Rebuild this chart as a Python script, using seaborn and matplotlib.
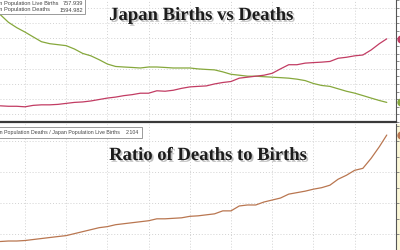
import matplotlib
matplotlib.use("Agg")
import matplotlib.pyplot as plt
import matplotlib.transforms as mtransforms
from matplotlib import patheffects as pe
from matplotlib.patches import Rectangle
import numpy as np
import pandas as pd
import seaborn as sns

# ---------------- data (thousands of people; ratio) ----------------
years = [1977, 1978, 1979, 1980, 1981, 1982, 1983, 1984, 1985, 1986, 1987, 1988,
         1989, 1990, 1991, 1992, 1993, 1994, 1995, 1996, 1997, 1998, 1999, 2000,
         2001, 2002, 2003, 2004, 2005, 2006, 2007, 2008, 2009, 2010, 2011, 2012,
         2013, 2014, 2015, 2016, 2017, 2018, 2019, 2020, 2021, 2022, 2023, 2023.9]
births = [1914, 1812, 1742, 1684, 1620, 1557, 1531, 1518, 1505, 1461, 1403, 1371,
          1320, 1263, 1231, 1224, 1218, 1211, 1224, 1224, 1218, 1211, 1211, 1211,
          1199, 1192, 1186, 1160, 1128, 1116, 1103, 1103, 1096, 1090, 1084, 1077,
          1064, 1045, 1007, 981, 969, 937, 905, 880, 848, 815, 783, 758]
deaths = [713, 707, 707, 700, 719, 726, 726, 732, 745, 758, 764, 777,
          796, 815, 828, 847, 860, 879, 879, 911, 905, 918, 943, 962,
          969, 975, 1001, 1020, 1033, 1077, 1090, 1103, 1116, 1141, 1199, 1254,
          1254, 1275, 1282, 1288, 1297, 1339, 1352, 1371, 1382, 1448, 1531, 1595]
ratio = [0.387, 0.395, 0.395, 0.403, 0.419, 0.435, 0.451, 0.467, 0.482, 0.514, 0.546, 0.578,
         0.610, 0.627, 0.658, 0.674, 0.690, 0.706, 0.722, 0.753, 0.753, 0.761, 0.769, 0.793,
         0.801, 0.817, 0.833, 0.881, 0.881, 0.960, 0.976, 0.976, 1.024, 1.056, 1.088, 1.151,
         1.175, 1.199, 1.231, 1.255, 1.295, 1.392, 1.455, 1.535, 1.567, 1.728, 1.916, 2.104]

births_label = "Japan Population Live Births"
deaths_label = "Japan Population Deaths"
ratio_label = "Japan Population Deaths / Japan Population Live Births"
births_last = "757.939"
deaths_last = "1594.982"
ratio_last = "2.104"
title_top = "Japan Births vs Deaths"
title_bottom = "Ratio of Deaths to Births"

df = pd.DataFrame({"year": years, "births": births, "deaths": deaths, "ratio": ratio})

# ---------------- style ----------------
sns.set_style("white")
plt.rcParams['font.family'] = ['Liberation Sans', 'DejaVu Sans']

C_BIRTH = "#86a83c"
C_DEATH = "#c23c63"
C_RATIO = "#b97650"
GRID = "#d2d2d2"

W, H = 400, 250
fig = plt.figure(figsize=(4, 2.5), dpi=100)
fig.patch.set_facecolor("white")


def rect(x0, y0, x1, y1):
    return [x0 / W, 1 - y1 / H, (x1 - x0) / W, (y1 - y0) / H]


def fx(px):
    return px / W


def fy(py):
    return 1 - py / H


ax1 = fig.add_axes(rect(0, 0, 396, 122))
ax2 = fig.add_axes(rect(0, 124, 396, 250))

sns.lineplot(data=df, x="year", y="births", ax=ax1, color=C_BIRTH, lw=0.9)
sns.lineplot(data=df, x="year", y="deaths", ax=ax1, color=C_DEATH, lw=0.9)
sns.lineplot(data=df, x="year", y="ratio", ax=ax2, color=C_RATIO, lw=0.9)

xlim = (1976.97, 2025.02)
for ax in (ax1, ax2):
    ax.set_xlim(*xlim)
    ax.set_xlabel("")
    ax.set_ylabel("")
    ax.set_xticks(np.arange(1980, 2021, 5))
    ax.grid(True, which="major", color=GRID, lw=0.7, linestyle=(0, (1, 2)))
    ax.tick_params(axis="x", which="both", bottom=False, labelbottom=False)
    ax.yaxis.tick_right()
    ax.tick_params(axis="y", which="both", direction="out", length=2.2, width=0.6,
                   color="#777777", labelright=False, labelleft=False, left=False)
    ax.spines["left"].set_visible(False)
    ax.spines["top"].set_visible(False)
    ax.spines["right"].set_color("#555555")
    ax.spines["right"].set_linewidth(0.8)

ax1.set_ylim(547, 2106)
ax1.set_yticks(np.arange(600, 2001, 200))
ax1.set_yticks(np.arange(500, 2101, 100), minor=True)
ax1.spines["bottom"].set_color("#3a3a3a")
ax1.spines["bottom"].set_linewidth(1.6)

ax2.set_ylim(0.26, 2.282)
ax2.set_yticks([0.5, 1.0, 1.5, 2.0])
ax2.set_yticks(np.arange(0.25, 2.3, 0.25), minor=True)
ax2.spines["bottom"].set_visible(False)

# last-value markers at the right axis
for ax, val, col in ((ax1, deaths[-1], C_DEATH), (ax1, births[-1], C_BIRTH), (ax2, ratio[-1], C_RATIO)):
    tr = mtransforms.blended_transform_factory(ax.transAxes, ax.transData)
    ax.plot([401 / 396], [val], "o", ms=5, color=col, transform=tr, clip_on=False)

# pale strip at the right edge of the lower panel
fig.add_artist(Rectangle((fx(397), fy(250)), fx(3), 126 / H, transform=fig.transFigure,
                         facecolor="#fbf7d8", edgecolor="none", zorder=0))

# ---------------- legends (cropped at left edge) ----------------
renderer = fig.canvas.get_renderer()


def text_width(s, **kw):
    t = fig.text(0, 0, s, **kw)
    w = t.get_window_extent(renderer).width
    t.remove()
    return w


LEG_FONT = dict(family=['Liberation Sans', 'DejaVu Sans'], color="#444444")


def fit_size(s, target, font):
    return 4 * target / text_width(s, fontsize=4, **font)


def legend_box(x0, y0, x1, y1):
    fig.add_artist(Rectangle((fx(x0), fy(y1)), fx(x1 - x0), (y1 - y0) / H,
                             transform=fig.transFigure, facecolor="white",
                             edgecolor="#8a8a8a", lw=0.6, zorder=5))


def legend_row(label, value, y, xval, fs):
    off = text_width("Japan ", fontsize=fs, **LEG_FONT)
    fig.text(fx(4 - off), fy(y), label, fontsize=fs, ha="left", va="center",
             zorder=6, **LEG_FONT)
    fig.text(fx(xval), fy(y), value, fontsize=fs, ha="right", va="center",
             zorder=6, **LEG_FONT)


fs_top = fit_size("Population Live Births", 54, LEG_FONT)
legend_box(-3, -3, 85, 14)
legend_row(births_label, births_last, 3.5, 83, fs_top)
legend_row(deaths_label, deaths_last, 10.0, 83, fs_top)

fs_bot = fit_size("Population Deaths / Japan Population Live Births", 113, LEG_FONT)
legend_box(-3, 127, 142, 138)
legend_row(ratio_label, ratio_last, 132.5, 139, fs_bot)

# ---------------- titles ----------------
TITLE_FONT = dict(family=['Liberation Serif', 'DejaVu Serif'], fontweight="bold", color="#1c1c1c")
shadow = [pe.SimplePatchShadow(offset=(1.3, -1.3), shadow_rgbFace="#777777", alpha=0.45), pe.Normal()]

fs1 = fit_size(title_top, 182, TITLE_FONT)
fig.text(fx(201), fy(20), title_top, fontsize=fs1, ha="center", va="baseline",
         path_effects=shadow, zorder=7, **TITLE_FONT)

fs2 = fit_size(title_bottom, 195, TITLE_FONT)
fig.text(fx(208), fy(160), title_bottom, fontsize=fs2, ha="center", va="baseline",
         path_effects=shadow, zorder=7, **TITLE_FONT)

fig.savefig("out.png", dpi=100)
